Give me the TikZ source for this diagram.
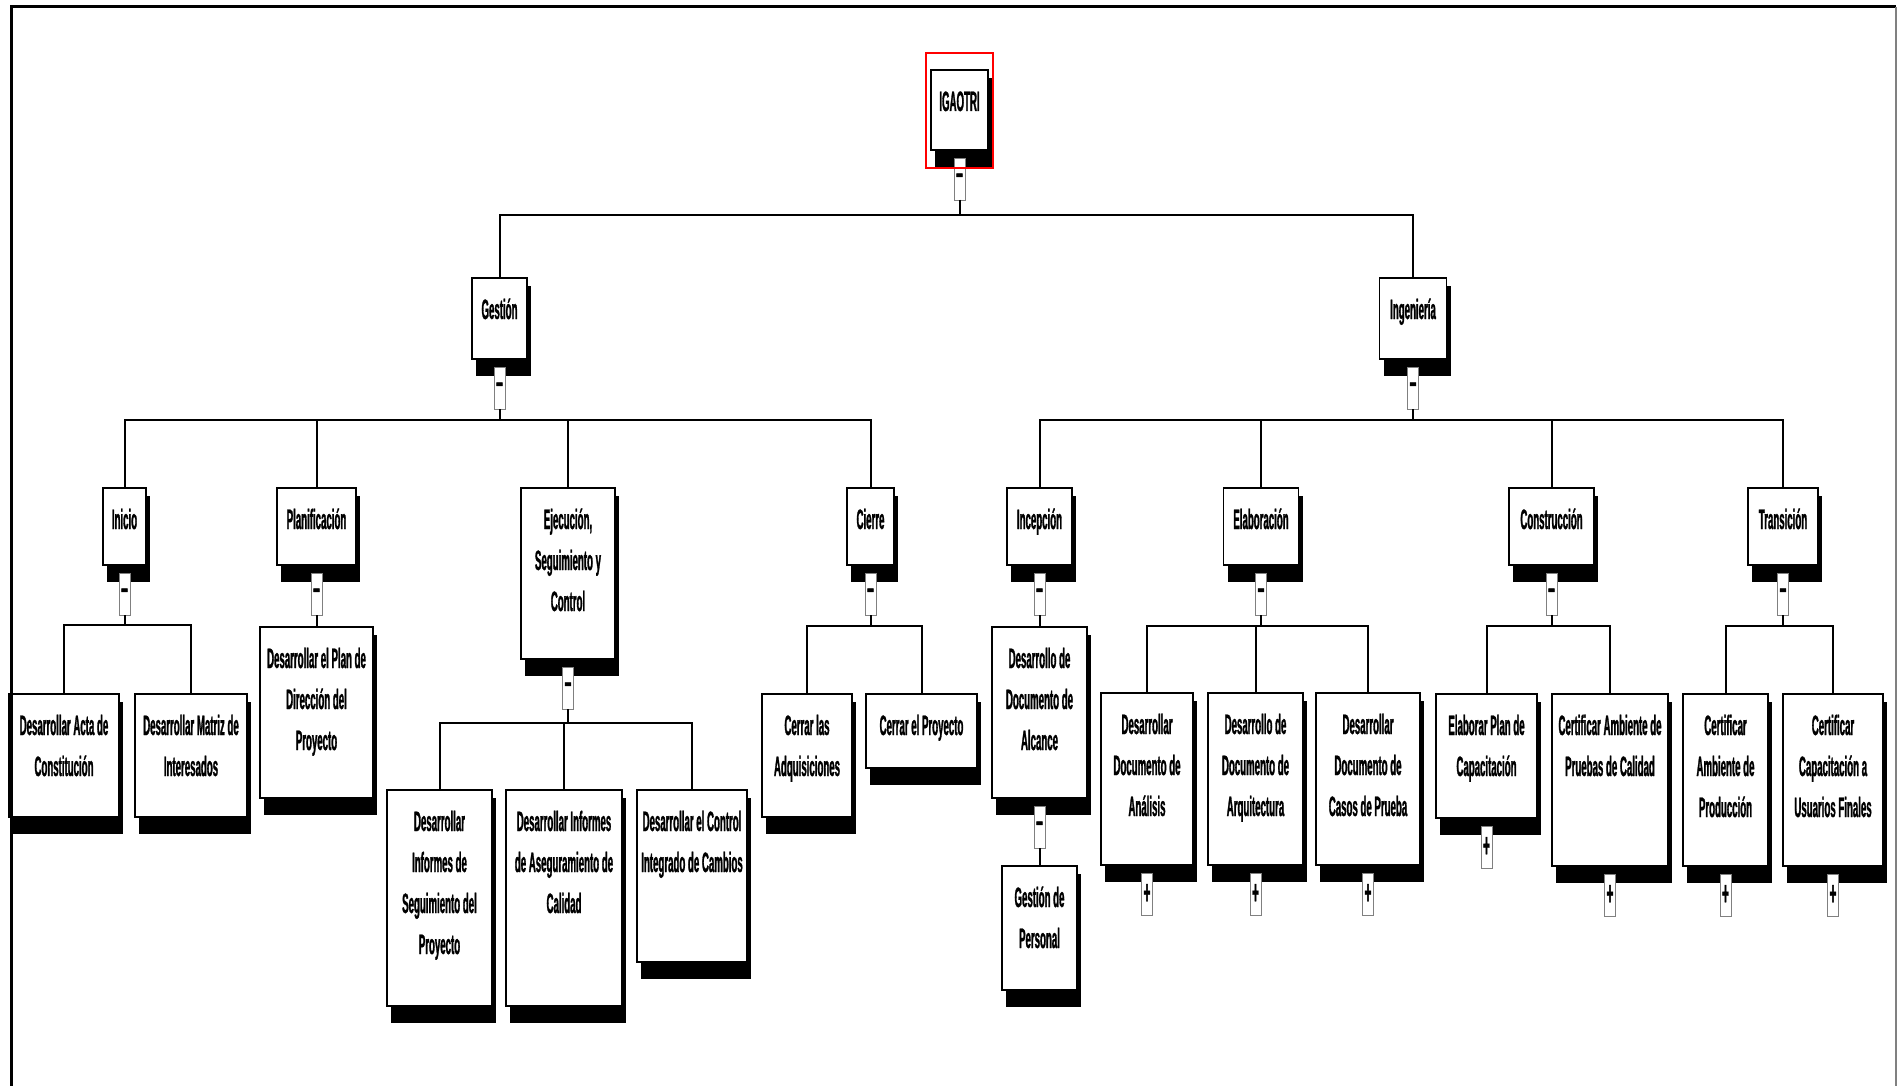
\documentclass[tikz,border=0pt]{standalone}
\usepackage{fontspec}
\newfontfamily\wbsfont[FakeStretch=0.345, FakeBold=1]{Liberation Sans}
\usetikzlibrary{positioning, backgrounds, calc}
\tikzset{
  % Cajas de la EDT
  wbs/.style 2 args={draw=black, line width=1.5pt, fill=white, inner sep=0pt, outer sep=0pt,
    anchor=north, align=flush center, text width=#1, text height=41pt, text depth=#2,
    font=\wbsfont\bfseries\fontsize{28}{41}\selectfont},
  % Botones de expandir / contraer
  tog/.style={draw=gray, line width=0.8pt, fill=white, inner sep=0pt, outer sep=0pt,
    minimum width=11pt, minimum height=42pt, font=\wbsfont\bfseries\fontsize{34}{34}\selectfont},
  % Conexiones
  conn/.style={line width=2pt, black}
}

\begin{document}
\begin{tikzpicture}[x=1pt, y=-1pt]
  \useasboundingbox (0,0) rectangle (1897,1086);
  % Nivel 0 y 1
  \node[wbs={57pt}{39pt}] (Root) at (959.5,70) {IGAOTRI};
  \node[wbs={55pt}{40pt}] (Gest) at (499.5,278) {Gestión};
  \node[wbs={67pt}{40pt}] (Inge) at (1413,278) {Ingeniería};
  % Nivel 2
  \node[wbs={43pt}{36pt}]  (Ini)  at (124.5,488)  {Inicio};
  \node[wbs={79pt}{36pt}]  (Plan) at (316.5,488)  {Planificación};
  \node[wbs={94pt}{130pt}] (Ejec) at (568,488)    {Ejecución,\\Seguimiento y\\Control};
  \node[wbs={47pt}{36pt}]  (Cier) at (870.5,488)  {Cierre};
  \node[wbs={65pt}{36pt}]  (Ince) at (1039.5,488) {Incepción};
  \node[wbs={75pt}{36pt}]  (Elab) at (1261,488)   {Elaboración};
  \node[wbs={85pt}{36pt}]  (Cons) at (1551.5,488) {Construcción};
  \node[wbs={70pt}{36pt}]  (Tran) at (1783,488)   {Transición};
  % Nivel 3
  \node[wbs={110pt}{82pt}]  (Acta)    at (64,694)     {Desarrollar Acta de\\Constitución};
  \node[wbs={112pt}{82pt}]  (Matr)    at (191,694)    {Desarrollar Matriz de\\Interesados};
  \node[wbs={113pt}{130pt}] (PlanDir) at (316.5,627)  {Desarrollar el Plan de\\Dirección del\\Proyecto};
  \node[wbs={105pt}{175pt}] (InfSeg)  at (439.5,790)  {Desarrollar\\Informes de\\Seguimiento del\\Proyecto};
  \node[wbs={116pt}{175pt}] (InfAse)  at (564,790)    {Desarrollar Informes\\de Aseguramiento de\\Calidad};
  \node[wbs={110pt}{131pt}] (CtrlCam) at (692,790)    {Desarrollar el Control\\Integrado de Cambios};
  \node[wbs={90pt}{82pt}]   (CerAdq)  at (807,694)    {Cerrar las\\Adquisiciones};
  \node[wbs={111pt}{33pt}]  (CerPro)  at (921.5,694)  {Cerrar el Proyecto};
  \node[wbs={95pt}{130pt}]  (DocAlc)  at (1039.5,627) {Desarrollo de\\Documento de\\Alcance};
  \node[wbs={75pt}{83pt}]   (GesPer)  at (1039.5,866) {Gestión de\\Personal};
  \node[wbs={92pt}{131pt}]  (DocAna)  at (1147,693)   {Desarrollar\\Documento de\\Análisis};
  \node[wbs={95pt}{131pt}]  (DocArq)  at (1255.5,693) {Desarrollo de\\Documento de\\Arquitectura};
  \node[wbs={104pt}{131pt}] (DocCas)  at (1368,693)   {Desarrollar\\Documento de\\Casos de Prueba};
  \node[wbs={101pt}{83pt}]  (PlanCap) at (1486.5,694) {Elaborar Plan de\\Capacitación};
  \node[wbs={116pt}{131pt}] (AmbPru)  at (1610,694)   {Certificar Ambiente de\\Pruebas de Calidad};
  \node[wbs={85pt}{131pt}]  (AmbPro)  at (1725.5,694) {Certificar\\Ambiente de\\Producción};
  \node[wbs={100pt}{131pt}] (CapUsu)  at (1833,694)   {Certificar\\Capacitación a\\Usuarios Finales};
  % Botones
  \foreach \n in {Root,Gest,Inge,Ini,Plan,Ejec,Cier,Ince,Elab,Cons,Tran,DocAlc}
    \node[tog, below=8pt of \n] (Tog\n) {\textendash};
  \foreach \n in {DocAna,DocArq,DocCas,PlanCap,AmbPru,AmbPro,CapUsu}
    \node[tog, below=8pt of \n] (Tog\n) {+};
  % Sombras
  \begin{scope}[on background layer]
    \foreach \n in {Root,Gest,Inge,Ini,Plan,Ejec,Cier,Ince,Elab,Cons,Tran,Acta,Matr,PlanDir,
        InfSeg,InfAse,CtrlCam,CerAdq,CerPro,DocAlc,GesPer,DocAna,DocArq,DocCas,PlanCap,AmbPru,AmbPro,CapUsu}
      \fill[black] ([shift={(4,8)}]\n.north west) rectangle ([shift={(4,17)}]\n.south east);
  \end{scope}
  % Conexiones
  \draw[conn] (TogRoot.south) -- ++(0,15) -| (Gest.north);
  \draw[conn] (TogRoot.south) -- ++(0,15) -| (Inge.north);
  \foreach \c in {Ini,Plan,Ejec,Cier}
    \draw[conn] (TogGest.south) -- ++(0,11) -| (\c.north);
  \foreach \c in {Ince,Elab,Cons,Tran}
    \draw[conn] (TogInge.south) -- ++(0,11) -| (\c.north);
  \draw[conn] (TogIni.south) -- ++(0,10) -| (Acta.north);
  \draw[conn] (TogIni.south) -- ++(0,10) -| (Matr.north);
  \draw[conn] (TogPlan.south) -- (PlanDir.north);
  \foreach \c in {InfSeg,InfAse,CtrlCam}
    \draw[conn] (TogEjec.south) -- ++(0,14) -| (\c.north);
  \draw[conn] (TogCier.south) -- ++(0,11) -| (CerAdq.north);
  \draw[conn] (TogCier.south) -- ++(0,11) -| (CerPro.north);
  \draw[conn] (TogInce.south) -- (DocAlc.north);
  \draw[conn] (TogDocAlc.south) -- (GesPer.north);
  \foreach \c in {DocAna,DocArq,DocCas}
    \draw[conn] (TogElab.south) -- ++(0,11) -| (\c.north);
  \draw[conn] (TogCons.south) -- ++(0,11) -| (PlanCap.north);
  \draw[conn] (TogCons.south) -- ++(0,11) -| (AmbPru.north);
  \draw[conn] (TogTran.south) -- ++(0,11) -| (AmbPro.north);
  \draw[conn] (TogTran.south) -- ++(0,11) -| (CapUsu.north);
  % Seleccion y marco
  \draw[red, line width=2pt] ([shift={(-5,-17)}]Root.north west) rectangle ([shift={(5,18)}]Root.south east);
  \draw[line width=3pt] (11,1086) -- (11,7) -- (1896,7);
  \draw[gray, line width=1.5pt] (1896,7) -- (1896,1086);
\end{tikzpicture}
\end{document}
